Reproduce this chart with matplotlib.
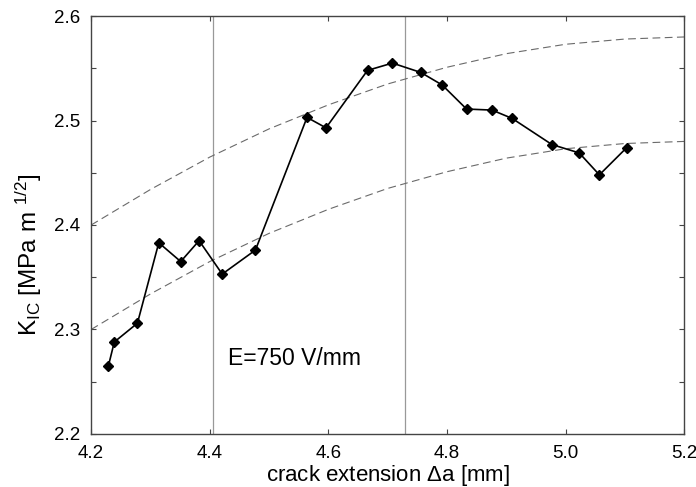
import matplotlib
matplotlib.use("Agg")
import matplotlib.pyplot as plt
from matplotlib.ticker import MultipleLocator

plt.rcParams.update({"font.family": ["Liberation Sans", "DejaVu Sans"],
                     "mathtext.fontset": "custom",
                     "mathtext.rm": "Liberation Sans",
                     "mathtext.it": "Liberation Sans"})

# measured K_IC values
crack_ext = [4.229, 4.239, 4.278, 4.314, 4.351, 4.382, 4.421, 4.477, 4.564,
             4.596, 4.666, 4.708, 4.756, 4.792, 4.833, 4.876, 4.910, 4.977,
             5.023, 5.057, 5.103]
k_ic = [2.265, 2.288, 2.306, 2.383, 2.365, 2.385, 2.353, 2.376, 2.503,
        2.493, 2.548, 2.555, 2.546, 2.534, 2.511, 2.510, 2.502, 2.477,
        2.469, 2.448, 2.474]

curve_x = [4.2, 4.3, 4.4, 4.5, 4.6, 4.7, 4.8, 4.9, 5.0, 5.1, 5.2]
upper_curve = [2.400, 2.434, 2.465, 2.492, 2.515, 2.535, 2.551, 2.564,
               2.573, 2.578, 2.580]
lower_curve = [2.300, 2.334, 2.365, 2.392, 2.415, 2.435, 2.451, 2.464,
               2.473, 2.478, 2.480]

# vertical marker lines
vlines_x = [4.405, 4.729]

fig = plt.figure(figsize=(6.96, 4.87), dpi=100)
ax = fig.add_axes([0.131, 0.109, 0.852, 0.858])

for xv in vlines_x:
    ax.axvline(xv, color="#999999", lw=0.9, zorder=1)

for cy in (upper_curve, lower_curve):
    ax.plot(curve_x, cy, color="#6a6a6a", lw=0.8, dashes=(7, 4), zorder=2)

ax.plot(crack_ext, k_ic, color="black", lw=1.2, marker="D", ms=5.5,
        mfc="black", mec="black", zorder=3)

ax.text(4.431, 2.272, "E=750 V/mm", fontsize=16.5, ha="left", va="center")

ax.set_xlim(4.2, 5.2)
ax.set_ylim(2.2, 2.6)
ax.yaxis.set_major_locator(MultipleLocator(0.1))
ax.yaxis.set_minor_locator(MultipleLocator(0.05))
ax.set_xticks([4.2, 4.4, 4.6, 4.8, 5.0, 5.2])
ax.set_xticklabels(["4.2", "4.4", "4.6", "4.8", "5.0", "5.2"])

ax.tick_params(which="both", direction="in", top=True, right=True,
               length=3.5, width=0.8, color="#444444", labelsize=13.5, pad=8)

for sp in ax.spines.values():
    sp.set_color("#444444")
    sp.set_linewidth(1.0)

ax.set_xlabel("crack extension $\\Delta$a [mm]", fontsize=16)
ax.xaxis.set_label_coords(0.5, -0.07)
ax.set_ylabel("K$_{\\mathrm{IC}}$ [MPa m $^{\\mathrm{1/2}}$]", fontsize=17.5)
ax.yaxis.set_label_coords(-0.08, 0.43)

fig.savefig("out.png", dpi=100)
